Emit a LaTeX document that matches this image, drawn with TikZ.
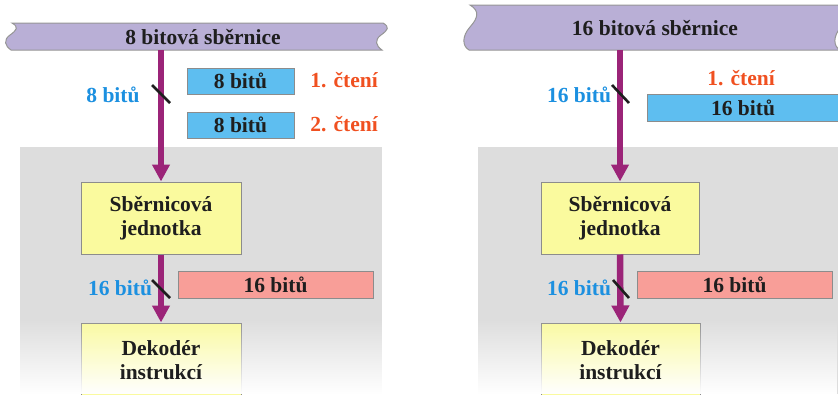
\documentclass[tikz,border=0pt]{standalone}
\usepackage{fontspec}
\setmainfont{Liberation Serif}[BoldFont={Liberation Serif Bold}]
\usetikzlibrary{arrows.meta,fadings}
\definecolor{busfill}{RGB}{185,175,214}
\definecolor{busline}{RGB}{150,150,150}
\definecolor{bluefill}{RGB}{94,190,240}
\definecolor{pinkfill}{RGB}{248,158,152}
\definecolor{yellowfill}{RGB}{250,250,158}
\definecolor{bggray}{RGB}{221,221,221}
\definecolor{boxline}{RGB}{140,140,140}
\definecolor{arrowpurple}{RGB}{155,36,120}
\definecolor{labelblue}{RGB}{28,144,224}
\definecolor{readred}{RGB}{240,80,32}
\definecolor{textdark}{RGB}{30,30,30}
\tikzfading[name=fadedown, top color=transparent!100, bottom color=transparent!0]
\begin{document}
\begin{tikzpicture}[x=1pt,y=-1pt,
  txt/.style={font=\bfseries\fontsize{21.5}{24}\selectfont, text=textdark},
  buspath/.style={fill=busfill, draw=busline, line width=1pt},
  boxbase/.style={draw=boxline, line width=1pt, inner sep=0pt, txt, align=center},
  bluebox/.style={boxbase, fill=bluefill},
  pinkbox/.style={boxbase, fill=pinkfill},
  yellowbox/.style={boxbase, fill=yellowfill},
  widthlbl/.style={font=\bfseries\fontsize{21.5}{24}\selectfont, text=labelblue},
  readlbl/.style={font=\bfseries\fontsize{21.5}{24}\selectfont, text=readred},
  busarrow/.style={draw=arrowpurple, line width=6.5pt, -{Triangle[width=17pt,length=17pt]}},
  slashline/.style={draw=textdark, line width=2.6pt}
]
\useasboundingbox (0,0) rectangle (838,394);
\clip (0,0) rectangle (838,394);

% backgrounds
\fill[bggray] (20,147) rectangle (382,394);
\fill[bggray] (478,147) rectangle (845,394);

% ---------- left panel ----------
\path[buspath] (12,23) -- (383,23)
  .. controls (390,27) and (388,30) .. (381,35)
  .. controls (374,40) and (376,46) .. (382,50)
  -- (11,50)
  .. controls (5,46) and (3,40) .. (10,35)
  .. controls (17,30) and (19,27) .. (12,23) -- cycle;
\node[txt] (bus1t) at (203,37) {8 bitová sběrnice};
\coordinate (bus1) at (161,50);

\node[bluebox, minimum width=107pt, minimum height=26pt] (b1) at (240.5,81) {8 bitů};
\node[bluebox, minimum width=107pt, minimum height=26pt] (b2) at (240.5,125) {8 bitů};
\node[readlbl] (r1) at (344,80) {1. čtení};
\node[readlbl] (r2) at (344,124) {2. čtení};

\node[yellowbox, minimum width=160pt, minimum height=72pt] (sb1) at (161,218) {Sběrnicová\\jednotka};
\node[pinkbox, minimum width=195pt, minimum height=27pt] (p1) at (275.5,284.5) {16 bitů};
\node[yellowbox, minimum width=160pt, minimum height=97pt] (dk1) at (161,371.5) {};

\draw[busarrow] (bus1) -- (sb1.north);
\draw[busarrow] (sb1.south) -- (dk1.north);
\draw[slashline] (152,85) -- (170,103);
\draw[slashline] (152,280) -- (170,298);
\node[widthlbl] (w1) at (113,95) {8 bitů};
\node[widthlbl] (w2) at (120,288) {16 bitů};

% ---------- right panel ----------
\path[buspath] (470,5) -- (841,5)
  .. controls (851,11) and (849,18) .. (841,27)
  .. controls (833,36) and (833,46) .. (840,50)
  -- (469,50)
  .. controls (462,46) and (462,36) .. (470,27)
  .. controls (478,18) and (480,11) .. (470,5) -- cycle;
\node[txt] (bus2t) at (655,28) {16 bitová sběrnice};
\coordinate (bus2) at (620,50);

\node[readlbl] (r3) at (741,78) {1. čtení};
\node[bluebox, minimum width=192pt, minimum height=27pt] (b3) at (743,107.5) {16 bitů};

\node[yellowbox, minimum width=158pt, minimum height=72pt] (sb2) at (620,218) {Sběrnicová\\jednotka};
\node[pinkbox, minimum width=195pt, minimum height=27pt] (p2) at (734.5,284.5) {16 bitů};
\node[yellowbox, minimum width=159pt, minimum height=97pt] (dk2) at (620.5,371.5) {};

\draw[busarrow] (bus2) -- (sb2.north);
\draw[busarrow] (sb2.south) -- (dk2.north);
\draw[slashline] (612,85) -- (629,103);
\draw[slashline] (613,280) -- (629,298);
\node[widthlbl] (w3) at (579,95) {16 bitů};
\node[widthlbl] (w4) at (579,288) {16 bitů};

% bottom fade
\fill[white, path fading=fadedown] (0,318) rectangle (838,394);

% decoder texts above fade
\node[txt, align=center] (dk1t) at (161,360) {Dekodér\\instrukcí};
\node[txt, align=center] (dk2t) at (620.5,360) {Dekodér\\instrukcí};
\end{tikzpicture}
\end{document}
